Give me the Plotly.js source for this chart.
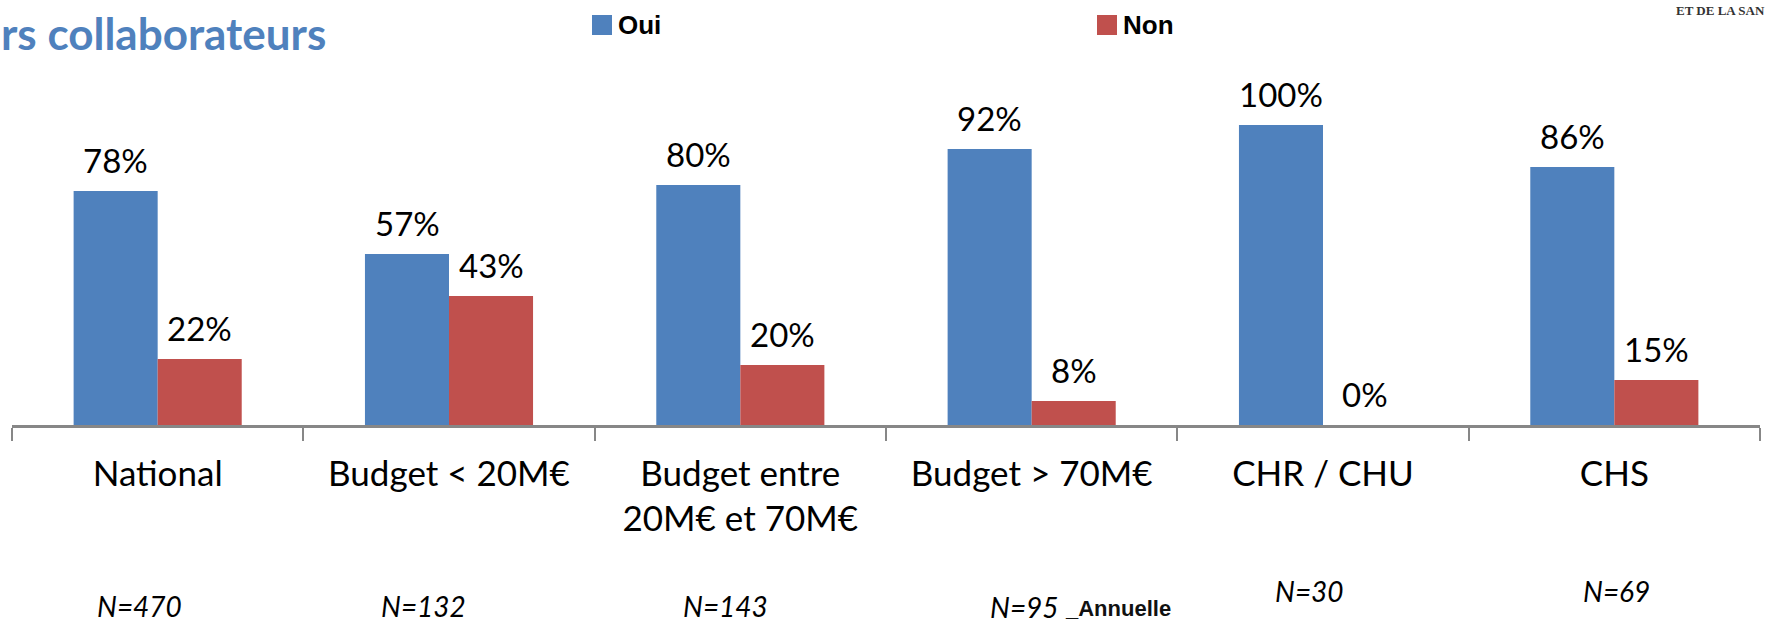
<!DOCTYPE html>
<html>
<head>
<meta charset="utf-8">
<script src="https://cdn.plot.ly/plotly-3.0.1.min.js"></script>
<style>html,body{margin:0;padding:0;background:#fff;}#chart{width:1766px;height:624px;}</style>
</head>
<body>
<div id="chart"></div>
<script>
// ---- data ----
const categories = ["National", "Budget < 20M€", "Budget entre<br>20M€ et 70M€", "Budget > 70M€", "CHR / CHU", "CHS"];
const seriesNames = ["Oui", "Non"];
const ouiValues = [0.78, 0.57, 0.80, 0.92, 1.00, 0.86];
const nonValues = [0.22, 0.43, 0.20, 0.08, 0.00, 0.15];
const sampleLabels = ["N=470", "N=132", "N=143", "N=95", "N=30", "N=69"];
const titleText = "rs collaborateurs";
const cornerText = "ET DE LA SAN";
const noteText = "_Annuelle";

// ---- style / layout helpers (pixel geometry of the page) ----
const W = 1766, H = 624;
const M = {l: 12, r: 6, t: 65, b: 199};
const PW = W - M.l - M.r, PH = H - M.t - M.b;
const px = x => (x - M.l) / PW;           // page x -> paper x
const py = y => (H - M.b - y) / PH;       // page y -> paper y
const colors = ["#4F81BD", "#C0504D"];
const labelFont = {family: "Lato, 'Open Sans', sans-serif", size: 33, color: "#000"};
const sampleXShift = [-18, -26, -15, -7, -14, 2];
const sampleRowY = [606, 606, 606, 607, 591, 591];
const barHalf = 42;

const fmt = v => Math.round(v * 100) + "%";

const traces = [ouiValues, nonValues].map((vals, i) => ({
  type: "bar",
  name: seriesNames[i],
  x: categories,
  y: vals,
  marker: {color: colors[i], line: {width: 0}},
  hoverinfo: "skip",
  showlegend: false
}));

const annotations = [];
[ouiValues, nonValues].forEach((vals, i) => {
  vals.forEach((v, k) => {
    annotations.push({
      x: categories[k], y: v, xref: "x", yref: "y",
      text: fmt(v), showarrow: false,
      xshift: (i === 0 ? -barHalf : barHalf), yshift: 9,
      yanchor: "bottom", xanchor: "center",
      font: labelFont
    });
  });
});
sampleLabels.forEach((s, k) => {
  annotations.push({
    x: categories[k], xref: "x", yref: "paper", y: py(sampleRowY[k]),
    text: "<i>" + s + "</i>", showarrow: false, xshift: sampleXShift[k],
    yanchor: "middle", xanchor: "center",
    font: {family: "Lato, sans-serif", size: 28, color: "#000"}
  });
});
annotations.push({
  xref: "paper", yref: "paper", x: px(1063), y: py(608), xanchor: "left", yanchor: "middle",
  text: "<b>" + noteText + "</b>", showarrow: false,
  font: {family: "'Liberation Sans', Arial, sans-serif", size: 22, color: "#111"}
});
// title (clipped at left in the reference)
annotations.push({
  xref: "paper", yref: "paper", x: px(-1), y: py(33), xanchor: "left", yanchor: "middle",
  text: "<b>" + titleText + "</b>", showarrow: false,
  font: {family: "Lato, sans-serif", size: 44, color: "#4F81BD"}
});
// corner logo text
annotations.push({
  xref: "paper", yref: "paper", x: px(1674), y: py(10), xanchor: "left", yanchor: "middle",
  text: "<b>" + cornerText + "</b>", showarrow: false,
  font: {family: "'Liberation Serif', serif", size: 13, color: "#333"}
});
// custom legend
const legendX = [592, 1097];
const shapes = [];
seriesNames.forEach((n, i) => {
  shapes.push({
    type: "rect", xref: "paper", yref: "paper",
    x0: px(legendX[i]), x1: px(legendX[i] + 20), y0: py(35), y1: py(15),
    fillcolor: colors[i], line: {width: 0}
  });
  annotations.push({
    xref: "paper", yref: "paper", x: px(legendX[i] + 24), y: py(25), xanchor: "left", yanchor: "middle",
    text: "<b>" + n + "</b>", showarrow: false,
    font: {family: "'Liberation Sans', Arial, sans-serif", size: 26, color: "#000"}
  });
});

const layout = {
  width: W, height: H,
  margin: M,
  paper_bgcolor: "#fff", plot_bgcolor: "#fff",
  barmode: "group", bargap: 0.423, bargroupgap: 0,
  showlegend: false,
  xaxis: {
    type: "category", range: [-0.5, 5.5],
    showline: true, linecolor: "#878787", linewidth: 2.5,
    ticks: "outside", tickson: "boundaries", ticklen: 13, tickwidth: 2, tickcolor: "#878787",
    tickfont: {family: "Lato, 'Open Sans', sans-serif", size: 35, color: "#000"},
    ticklabelstandoff: 16,
    showgrid: false, zeroline: false, fixedrange: true
  },
  yaxis: {range: [0, 1.2], visible: false, showgrid: false, zeroline: false, fixedrange: true},
  annotations: annotations,
  shapes: shapes,
  hovermode: false
};

Plotly.newPlot("chart", traces, layout, {displayModeBar: false, staticPlot: true});
</script>
</body>
</html>
